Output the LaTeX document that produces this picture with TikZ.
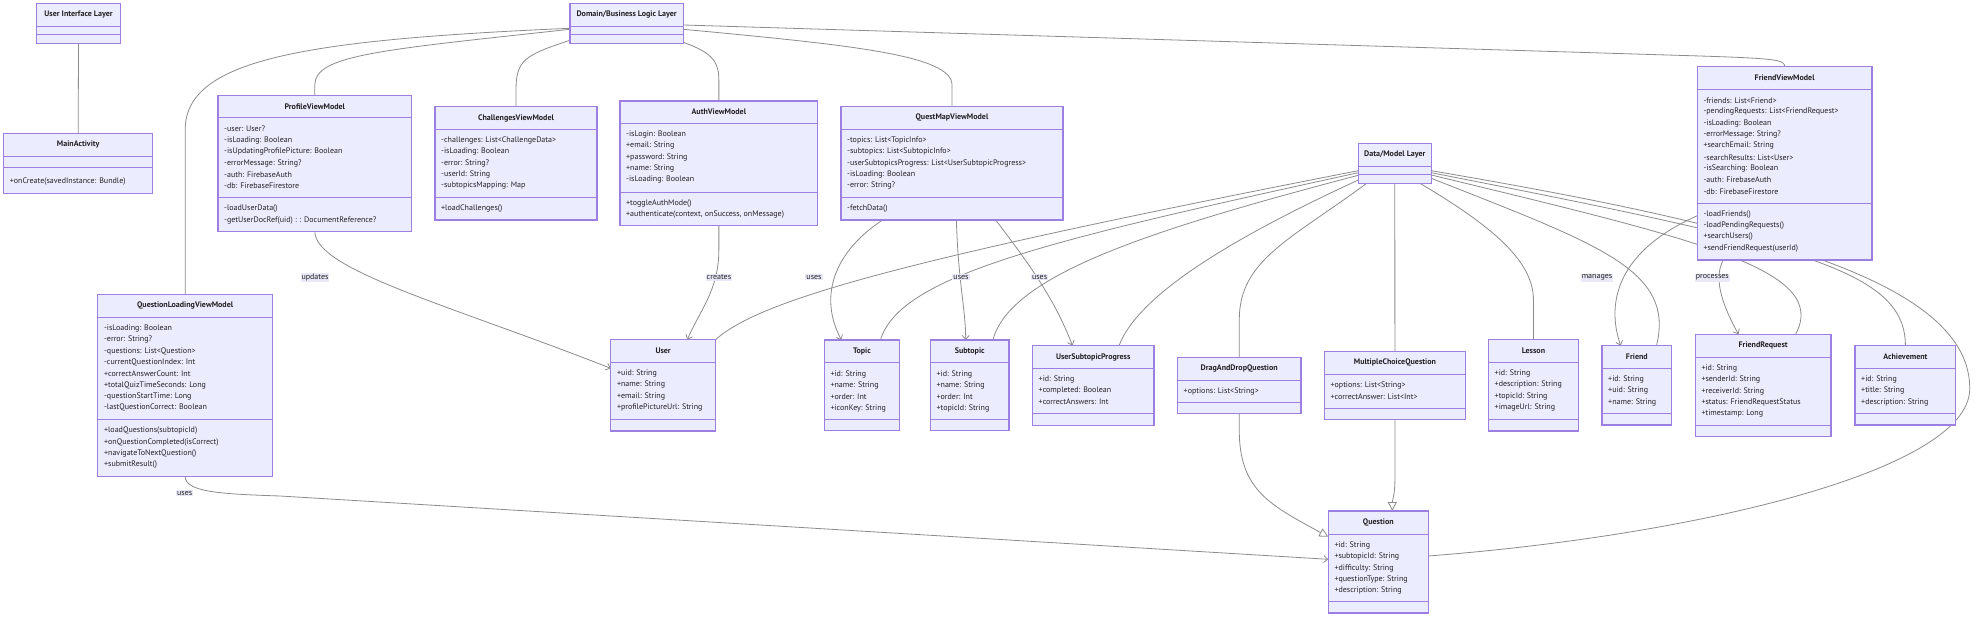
\documentclass[tikz,border=0pt]{standalone}
\usepackage{fontspec}
\setmainfont{PT Sans}
\usetikzlibrary{arrows.meta,calc,fit}
\pgfdeclarelayer{bg}
\pgfsetlayers{bg,main}
\definecolor{boxfill}{HTML}{ECECFF}
\definecolor{boxline}{HTML}{9C7FE0}
\definecolor{edgecol}{HTML}{8C8C8C}
\definecolor{txtcol}{HTML}{222222}
\definecolor{lblbg}{HTML}{E8E8F8}
\tikzset{
  cls/.style={draw=boxline, fill=boxfill, line width=1.1pt, inner sep=0pt, outer sep=0pt},
  sepline/.style={draw=boxline, line width=0.9pt},
  ttl/.style={font=\fontsize{8}{9}\selectfont\bfseries, text=txtcol, inner sep=0pt},
  attr/.style={font=\fontsize{8}{9}\selectfont, text=txtcol, anchor=west, inner sep=0pt},
  edge/.style={draw=edgecol, line width=0.8pt},
  dep/.style={edge, -{Straight Barb[length=4pt,width=7pt]}},
  inh/.style={edge, -{Triangle[open,length=9pt,width=9pt,fill=white]}},
  lbl/.style={fill=lblbg, font=\fontsize{8}{9}\selectfont, text=txtcol, inner sep=1pt},
}
\newcommand{\umlbox}[8]{%
  \node[cls, fit={(#2,#3) (#4,#5)}] (#1) {};
  \draw[sepline] (#2,#6) -- (#4,#6);
  \draw[sepline] (#2,#7) -- (#4,#7);
  \node[ttl] (#1-t) at ({(#2+#4)/2},{(#3+#6)/2}) {#8};
}
\newcommand{\umlrows}[4]{%
  \foreach \rowtext [count=\i from 0] in {#4} {
    \node[attr] (#1-\i) at (#2,{#3+11.35*\i}) {\rowtext};
  }
}
\begin{document}
\begin{tikzpicture}[x=1pt,y=-1pt]
\useasboundingbox (0,0) rectangle (1984,620);
\begin{pgfonlayer}{bg}
\fill[white] (0,0) rectangle (1984,620);
\end{pgfonlayer}

% ---------- boxes ----------
\umlbox{uil}{36.6}{3.3}{120.5}{43.3}{26}{34.3}{User Interface Layer}
\umlbox{dom}{570}{3.3}{683.3}{43.3}{26}{34.3}{Domain/Business Logic Layer}
\umlbox{dml}{1358.3}{143.3}{1431.3}{183.3}{166.3}{174.7}{Data/Model Layer}

\umlbox{main}{3.6}{133.3}{152.7}{193.3}{156}{167.7}{MainActivity}
\umlrows{main-m}{9.6}{181.5}{+onCreate(savedInstance: Bundle)}

\umlbox{pvm}{218}{95.3}{411.6}{231.3}{117.7}{197.3}{ProfileViewModel}
\umlrows{pvm-a}{224}{129}{-user: User?,-isLoading: Boolean,-isUpdatingProfilePicture: Boolean,-errorMessage: String?,-auth: FirebaseAuth,-db: FirebaseFirestore}
\umlrows{pvm-m}{224}{208.7}{-loadUserData(),-getUserDocRef(uid) : : DocumentReference?}

\umlbox{cvm}{435}{106.7}{597}{220}{129.3}{197.3}{ChallengesViewModel}
\umlrows{cvm-a}{441}{140.4}{-challenges: List<ChallengeData>,-isLoading: Boolean,-error: String?,-userId: String,-subtopicsMapping: Map}
\umlrows{cvm-m}{441}{208.5}{+loadChallenges()}

\umlbox{avm}{620}{101}{817.7}{225.7}{123.3}{192}{AuthViewModel}
\umlrows{avm-a}{626}{134.6}{-isLogin: Boolean,+email: String,+password: String,+name: String,-isLoading: Boolean}
\umlrows{avm-m}{626}{203.2}{+toggleAuthMode(),{+authenticate(context, onSuccess, onMessage)}}

\umlbox{qmvm}{841}{106.7}{1063}{220}{129.3}{197.3}{QuestMapViewModel}
\umlrows{qmvm-a}{847}{140.4}{-topics: List<TopicInfo>,-subtopics: List<SubtopicInfo>,-userSubtopicsProgress: List<UserSubtopicProgress>,-isLoading: Boolean,-error: String?}
\umlrows{qmvm-m}{847}{208.5}{-fetchData()}

\umlbox{fvm}{1697.3}{66.7}{1872}{260}{89.7}{203.3}{FriendViewModel}
\umlrows{fvm-a}{1703.3}{100.6}{-friends: List<Friend>,-pendingRequests: List<FriendRequest>,-isLoading: Boolean,-errorMessage: String?,+searchEmail: String,-searchResults: List<User>,-isSearching: Boolean,-auth: FirebaseAuth,-db: FirebaseFirestore}
\umlrows{fvm-m}{1703.3}{214.2}{-loadFriends(),-loadPendingRequests(),+searchUsers(),+sendFriendRequest(userId)}

\umlbox{qlvm}{97.9}{294.3}{272.4}{476.3}{317.3}{419.7}{QuestionLoadingViewModel}
\umlrows{qlvm-a}{103.9}{328.4}{-isLoading: Boolean,-error: String?,-questions: List<Question>,-currentQuestionIndex: Int,+correctAnswerCount: Int,+totalQuizTimeSeconds: Long,-questionStartTime: Long,-lastQuestionCorrect: Boolean}
\umlrows{qlvm-m}{103.9}{430.7}{+loadQuestions(subtopicId),+onQuestionCompleted(isCorrect),+navigateToNextQuestion(),+submitResult()}

\umlbox{user}{610.8}{339.7}{715.5}{431}{362.3}{419.7}{User}
\umlrows{user-a}{616.8}{373.6}{+uid: String,+name: String,+email: String,+profilePictureUrl: String}

\umlbox{topic}{824.3}{340}{899.6}{430.7}{362.7}{419.7}{Topic}
\umlrows{topic-a}{830.3}{374}{+id: String,+name: String,+order: Int,+iconKey: String}

\umlbox{subtopic}{930.4}{340}{1009}{430.7}{362.7}{419.7}{Subtopic}
\umlrows{subtopic-a}{936.4}{374}{+id: String,+name: String,+order: Int,+topicId: String}

\umlbox{usp}{1032.5}{345.7}{1154}{425.3}{368.3}{413.7}{UserSubtopicProgress}
\umlrows{usp-a}{1038.5}{379.5}{+id: String,+completed: Boolean,+correctAnswers: Int}

\umlbox{dnd}{1177.5}{357.3}{1301}{413.3}{380}{402.3}{DragAndDropQuestion}
\umlrows{dnd-a}{1183.5}{391.3}{+options: List<String>}

\umlbox{mcq}{1324.4}{351.3}{1465.4}{419.7}{374}{408.3}{MultipleChoiceQuestion}
\umlrows{mcq-a}{1330.4}{385.3}{+options: List<String>,+correctAnswer: List<Int>}

\umlbox{lesson}{1488.5}{339.7}{1578.4}{431}{362.3}{419.7}{Lesson}
\umlrows{lesson-a}{1494.5}{373.6}{+id: String,+description: String,+topicId: String,+imageUrl: String}

\umlbox{friend}{1602}{345.7}{1671.7}{425}{368.3}{413.7}{Friend}
\umlrows{friend-a}{1608}{379.5}{+id: String,+uid: String,+name: String}

\umlbox{freq}{1695.3}{334.3}{1831}{436.3}{357}{425.3}{FriendRequest}
\umlrows{freq-a}{1701.3}{368.3}{+id: String,+senderId: String,+receiverId: String,+status: FriendRequestStatus,+timestamp: Long}

\umlbox{ach}{1855}{345.7}{1955.8}{425}{368.3}{413.7}{Achievement}
\umlrows{ach-a}{1861}{379.5}{+id: String,+title: String,+description: String}

\umlbox{question}{1328.3}{511}{1428.3}{613}{534}{601.3}{Question}
\umlrows{question-a}{1334.3}{545.3}{+id: String,+subtopicId: String,+difficulty: String,+questionType: String,+description: String}

% ---------- connectors ----------
\begin{pgfonlayer}{bg}
\draw[edge] (uil.south) -- (main.north);
\draw[edge] ($(dom.north west)+(0,25)$) .. controls (300,40) and (185.15,60) .. (185.15,130) -- (qlvm.north);
\draw[edge] ($(dom.north west)+(0,26)$) .. controls (380,50) and (314.8,55) .. (314.8,85) -- (pvm.north);
\draw[edge] ($(dom.south west)+(0,-3)$) .. controls (525,55) and (516,60) .. (516,90) -- (cvm.north);
\draw[edge] ($(dom.south east)+(0,-1)$) .. controls (710,52) and (718.85,60) .. (718.85,80) -- (avm.north);
\draw[edge] ($(dom.north east)+(0,26)$) .. controls (850,45) and (952,55) .. (952,85) -- (qmvm.north);
\draw[edge] ($(dom.north east)+(0,21.7)$) -- (1700,56) .. controls (1778,58.5) and (1784.65,60) .. (fvm.north);

\draw[edge] ($(dml.north west)+(0,27.4)$) .. controls (900,260) and (760,300) .. (user.north east);
\draw[edge] ($(dml.north west)+(0,29.4)$) .. controls (1050,240) and (900,275) .. ($(topic.north)+(18.5,0)$);
\draw[edge] ($(dml.north west)+(0,32)$) .. controls (1150,230) and (1010,275) .. ($(subtopic.north)+(23.2,0)$);
\draw[edge] ($(dml.north west)+(0,36.7)$) .. controls (1250,230) and (1140,290) .. ($(usp.north)+(25.75,0)$);
\draw[edge] ($(dml.south west)+(8.4,0)$) .. controls (1290,240) and (1239.25,260) .. (1239.25,320) -- (dnd.north);
\draw[edge] (dml.south) -- (mcq.north);
\draw[edge] ($(dml.south east)+(-11.3,0)$) .. controls (1490,225) and (1533.45,260) .. (1533.45,300) -- (lesson.north);
\draw[edge] ($(dml.north east)+(0,35)$) .. controls (1600,245) and (1675,270) .. ($(friend.north)+(19.65,0)$);
\draw[edge] ($(dml.north east)+(0,31.7)$) .. controls (1700,240) and (1830,270) .. ($(freq.north)+(32.45,0)$);
\draw[edge] ($(dml.north east)+(0,29.4)$) .. controls (1800,245) and (1905.4,270) .. (ach.north);
\draw[edge] ($(dml.north east)+(0,27.4)$) .. controls (1750,225) and (1972,280) .. (1969.7,390) .. controls (1967,470) and (1700,535) .. ($(question.east)+(0,-6)$);

\draw[dep] (pvm.south) .. controls (314.8,270) and (450,305) .. ($(user.west)+(0,-17)$);
\draw[dep] (avm.south) -- (718.85,250) .. controls (718.85,290) and (700,310) .. ($(user.north)+(24.15,0)$);
\draw[dep] ($(qmvm.south)+(-69.5,0)$) .. controls (830,255) and (820,300) .. ($(topic.north)+(-20.5,0)$);
\draw[dep] ($(qmvm.south)+(4.4,0)$) .. controls (958,280) and (965.7,310) .. ($(subtopic.north)+(-4,0)$);
\draw[dep] ($(qmvm.south)+(43.7,0)$) .. controls (1030,265) and (1055,300) .. ($(usp.north)+(-20.75,0)$);
\draw[dep] ($(fvm.south west)+(0,-44.3)$) .. controls (1620,250) and (1605,300) .. ($(friend.north)+(-16.15,0)$);
\draw[dep] ($(fvm.south west)+(26,0)$) .. controls (1712,280) and (1725,310) .. ($(freq.north)+(-24.65,0)$);
\draw[dep] (qlvm.south) .. controls (185.15,492) and (220,494) .. (280,496) -- ($(question.west)+(0,-2.7)$);
\draw[inh] (dnd.south) -- (1239.25,430) .. controls (1239.25,490) and (1270,505) .. ($(question.north west)+(0,25.7)$);
\draw[inh] (mcq.south) -- (1394.9,480) .. controls (1394.9,495) and (1392.3,500) .. ($(question.north)+(14,0)$);
\end{pgfonlayer}

% ---------- labels ----------
\node[lbl] (l-upd) at (315,277.3) {updates};
\node[lbl] (l-cre) at (718.9,277.3) {creates};
\node[lbl] (l-u1) at (814,277.3) {uses};
\node[lbl] (l-u2) at (961,277.3) {uses};
\node[lbl] (l-u3) at (1039.6,277.3) {uses};
\node[lbl] (l-man) at (1597,277.7) {manages};
\node[lbl] (l-pro) at (1712.3,277.7) {processes};
\node[lbl] (l-u4) at (184.7,493.3) {uses};
\end{tikzpicture}
\end{document}
